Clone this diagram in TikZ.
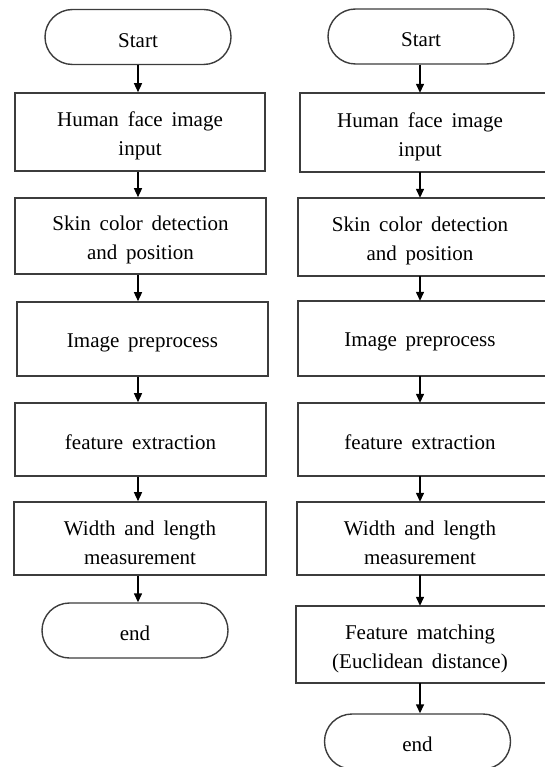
\documentclass[tikz,border=0pt]{standalone}
\usepackage{fontspec}
\setmainfont{Liberation Serif}
\usetikzlibrary{arrows.meta}
\definecolor{boxgray}{HTML}{3C3C3C}
\newcommand\flowfont{\fontsize{21}{29}\selectfont\spaceskip=0.42em plus 0.1em\relax}
\newcommand\lowone{\rule{0pt}{21pt}}
\newcommand\lowtwo{\rule{0pt}{23pt}}
\begin{document}
\begin{tikzpicture}[x=1pt,y=-1pt,
  every node/.style={font=\flowfont, align=center, text=black, inner sep=0pt},
  boxline/.style={draw=boxgray, line width=1.6pt},
  procbox/.style 2 args={boxline, minimum width=#1, minimum height=#2},
  textbox/.style 2 args={minimum width=#1, minimum height=#2},
  termbox/.style={draw=boxgray, line width=1.4pt, minimum width=186pt, minimum height=55pt, rounded corners=27.5pt},
  arr/.style={draw=black, line width=1.4pt, -{Triangle[length=9pt,width=8pt]}}
]
\useasboundingbox (0,0) rectangle (545,767);
\clip (0,0) rectangle (545,767);

% left column
\node[termbox] (ls) at (138,37) {\lowone Start};
\node[procbox={250pt}{78pt}] (lb1) at (140,132) {\lowtwo Human face image\\input};
\node[procbox={251pt}{76pt}] (lb2) at (140.5,236) {\lowtwo Skin color detection\\and position};
\node[procbox={251pt}{74pt}] (lb3) at (142.5,339) {\lowone Image preprocess};
\node[procbox={251pt}{73pt}] (lb4) at (140.5,439.5) {\lowone feature extraction};
\node[procbox={252pt}{73pt}] (lb5) at (140,538.5) {\lowtwo Width and length\\measurement};
\node[termbox] (le) at (135,630.5) {\lowone end};

\draw[arr] (ls.south) -- (ls.south |- lb1.north);
\draw[arr] (lb1.south -| ls) -- (lb2.north -| ls);
\draw[arr] (lb2.south -| ls) -- (lb3.north -| ls);
\draw[arr] (lb3.south -| ls) -- (lb4.north -| ls);
\draw[arr] (lb4.south -| ls) -- (lb5.north -| ls);
\draw[arr] (lb5.south -| ls) -- (le.north -| ls);

% right column (boxes run past the right edge of the picture)
\coordinate (rx) at (420,0);
\node[termbox] (rs) at (421,36.5) {\lowone Start};
\node[textbox={240pt}{79pt}] (rb1) at (420,132.5) {\lowtwo Human face image\\input};
\node[textbox={244pt}{78pt}] (rb2) at (420,237) {\lowtwo Skin color detection\\and position};
\node[textbox={244pt}{75pt}] (rb3) at (420,338.5) {\lowone Image preprocess};
\node[textbox={244pt}{73pt}] (rb4) at (420,439.5) {\lowone feature extraction};
\node[textbox={246pt}{73pt}] (rb5) at (420,538.5) {\lowtwo Width and length\\measurement};
\node[textbox={248pt}{77pt}] (rb6) at (420,644.5) {\lowtwo Feature matching\\(Euclidean distance)};
\node[termbox] (re) at (417.5,741.5) {\lowone end};

\foreach \b in {rb1,rb2,rb3,rb4,rb5,rb6}
  \draw[boxline] (\b.north west) rectangle ([xshift=20pt]\b.south east);

\draw[arr] (rs.south -| rx) -- (rb1.north -| rx);
\draw[arr] (rb1.south -| rx) -- (rb2.north -| rx);
\draw[arr] (rb2.south -| rx) -- (rb3.north -| rx);
\draw[arr] (rb3.south -| rx) -- (rb4.north -| rx);
\draw[arr] (rb4.south -| rx) -- (rb5.north -| rx);
\draw[arr] (rb5.south -| rx) -- (rb6.north -| rx);
\draw[arr] (rb6.south -| rx) -- (re.north -| rx);
\end{tikzpicture}
\end{document}
